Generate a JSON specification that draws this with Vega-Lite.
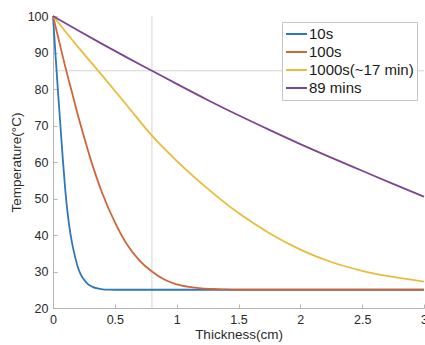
{
  "$schema": "https://vega.github.io/schema/vega-lite/v6.json",
  "width": 371,
  "height": 292,
  "autosize": {"type": "none"},
  "padding": {"left": 53, "top": 16, "right": 1, "bottom": 37},
  "background": "white",
  "config": {
    "view": {"stroke": null},
    "font": "Liberation Sans",
    "axis": {
      "grid": false,
      "domainColor": "#b5b5b5",
      "tickColor": "#b5b5b5",
      "labelColor": "#2a2a2a",
      "titleColor": "#2a2a2a",
      "labelFontSize": 12.5,
      "titleFontSize": 13.5,
      "titleFontWeight": "normal",
      "tickSize": -4,
      "labelPadding": 9,
      "labelOverlap": false,
      "labelFlush": false
    }
  },
  "datasets": {
    "curves": [
      {"series": "10s", "x": 0, "T": 100},
      {"series": "10s", "x": 0.02, "T": 89.5},
      {"series": "10s", "x": 0.04, "T": 79.5},
      {"series": "10s", "x": 0.06, "T": 70},
      {"series": "10s", "x": 0.08, "T": 60.5},
      {"series": "10s", "x": 0.1, "T": 52},
      {"series": "10s", "x": 0.12, "T": 45.5},
      {"series": "10s", "x": 0.14, "T": 40.5},
      {"series": "10s", "x": 0.16, "T": 36.8},
      {"series": "10s", "x": 0.18, "T": 33.8},
      {"series": "10s", "x": 0.2, "T": 31.3},
      {"series": "10s", "x": 0.22, "T": 29.5},
      {"series": "10s", "x": 0.25, "T": 27.8},
      {"series": "10s", "x": 0.28, "T": 26.6},
      {"series": "10s", "x": 0.32, "T": 25.8},
      {"series": "10s", "x": 0.36, "T": 25.35},
      {"series": "10s", "x": 0.4, "T": 25.12},
      {"series": "10s", "x": 0.45, "T": 25.03},
      {"series": "10s", "x": 0.5, "T": 25},
      {"series": "10s", "x": 1, "T": 25},
      {"series": "10s", "x": 1.5, "T": 25},
      {"series": "10s", "x": 2, "T": 25},
      {"series": "10s", "x": 2.5, "T": 25},
      {"series": "10s", "x": 3, "T": 25},
      {"series": "100s", "x": 0, "T": 100},
      {"series": "100s", "x": 0.05, "T": 93},
      {"series": "100s", "x": 0.1, "T": 86},
      {"series": "100s", "x": 0.15, "T": 79.5},
      {"series": "100s", "x": 0.2, "T": 73},
      {"series": "100s", "x": 0.25, "T": 67},
      {"series": "100s", "x": 0.3, "T": 61.2},
      {"series": "100s", "x": 0.35, "T": 56},
      {"series": "100s", "x": 0.4, "T": 51.3},
      {"series": "100s", "x": 0.5, "T": 43.5},
      {"series": "100s", "x": 0.6, "T": 37.3},
      {"series": "100s", "x": 0.7, "T": 33},
      {"series": "100s", "x": 0.8, "T": 30},
      {"series": "100s", "x": 0.9, "T": 27.8},
      {"series": "100s", "x": 1.0, "T": 26.5},
      {"series": "100s", "x": 1.1, "T": 25.8},
      {"series": "100s", "x": 1.2, "T": 25.4},
      {"series": "100s", "x": 1.3, "T": 25.2},
      {"series": "100s", "x": 1.4, "T": 25.1},
      {"series": "100s", "x": 1.5, "T": 25},
      {"series": "100s", "x": 2, "T": 25},
      {"series": "100s", "x": 2.5, "T": 25},
      {"series": "100s", "x": 3, "T": 25},
      {"series": "1000s(~17 min)", "x": 0, "T": 100},
      {"series": "1000s(~17 min)", "x": 0.2, "T": 91.6},
      {"series": "1000s(~17 min)", "x": 0.4, "T": 83.6},
      {"series": "1000s(~17 min)", "x": 0.6, "T": 75.4},
      {"series": "1000s(~17 min)", "x": 0.8, "T": 67.2},
      {"series": "1000s(~17 min)", "x": 1.0, "T": 60.3},
      {"series": "1000s(~17 min)", "x": 1.25, "T": 52.7},
      {"series": "1000s(~17 min)", "x": 1.5, "T": 46},
      {"series": "1000s(~17 min)", "x": 1.75, "T": 40.5},
      {"series": "1000s(~17 min)", "x": 2.0, "T": 36},
      {"series": "1000s(~17 min)", "x": 2.25, "T": 32.6},
      {"series": "1000s(~17 min)", "x": 2.5, "T": 30.2},
      {"series": "1000s(~17 min)", "x": 2.75, "T": 28.5},
      {"series": "1000s(~17 min)", "x": 3.0, "T": 27.2},
      {"series": "89 mins", "x": 0, "T": 100},
      {"series": "89 mins", "x": 0.2, "T": 96.1},
      {"series": "89 mins", "x": 0.4, "T": 92.3},
      {"series": "89 mins", "x": 0.6, "T": 88.6},
      {"series": "89 mins", "x": 0.8, "T": 85},
      {"series": "89 mins", "x": 1.0, "T": 81.4},
      {"series": "89 mins", "x": 1.25, "T": 77},
      {"series": "89 mins", "x": 1.5, "T": 72.8},
      {"series": "89 mins", "x": 1.75, "T": 68.8},
      {"series": "89 mins", "x": 2.0, "T": 64.9},
      {"series": "89 mins", "x": 2.25, "T": 61.2},
      {"series": "89 mins", "x": 2.5, "T": 57.6},
      {"series": "89 mins", "x": 2.75, "T": 54},
      {"series": "89 mins", "x": 3.0, "T": 50.5}
    ],
    "vline": [{"x": 0.8}],
    "hline": [{"T": 85}]
  },
  "layer": [
    {
      "data": {"name": "vline"},
      "mark": {"type": "rule", "color": "#d4d4d4", "strokeWidth": 1},
      "encoding": {
        "x": {
          "field": "x", "type": "quantitative",
          "scale": {"domain": [0, 3], "nice": false},
          "axis": {"title": "Thickness(cm)", "values": [0, 0.5, 1, 1.5, 2, 2.5, 3], "tickCount": 7, "format": "~g", "titlePadding": 2}
        }
      }
    },
    {
      "data": {"name": "hline"},
      "mark": {"type": "rule", "color": "#d4d4d4", "strokeWidth": 1},
      "encoding": {
        "y": {
          "field": "T", "type": "quantitative",
          "scale": {"domain": [20, 100], "nice": false, "zero": false},
          "axis": {"title": "Temperature(°C)", "values": [20, 30, 40, 50, 60, 70, 80, 90, 100], "tickCount": 9, "format": "d", "titlePadding": 4}
        }
      }
    },
    {
      "data": {"name": "curves"},
      "mark": {"type": "line", "strokeWidth": 1.8, "interpolate": "monotone"},
      "encoding": {
        "x": {
          "field": "x", "type": "quantitative",
          "scale": {"domain": [0, 3], "nice": false},
          "axis": {"title": "Thickness(cm)", "values": [0, 0.5, 1, 1.5, 2, 2.5, 3], "tickCount": 7, "format": "~g", "titlePadding": 2}
        },
        "y": {
          "field": "T", "type": "quantitative",
          "scale": {"domain": [20, 100], "nice": false, "zero": false},
          "axis": {"title": "Temperature(°C)", "values": [20, 30, 40, 50, 60, 70, 80, 90, 100], "tickCount": 9, "format": "d", "titlePadding": 4}
        },
        "color": {
          "field": "series", "type": "nominal",
          "scale": {
            "domain": ["10s", "100s", "1000s(~17 min)", "89 mins"],
            "range": ["#2f78b8", "#d0653a", "#e8bd3a", "#7b4592"]
          },
          "legend": {
            "title": null,
            "orient": "none",
            "legendX": 229,
            "legendY": 6,
            "symbolType": "stroke",
            "symbolSize": 441,
            "symbolStrokeWidth": 1.8,
            "labelFontSize": 15,
            "labelColor": "#1a1a1a",
            "labelOffset": 1,
            "clipHeight": 18,
            "rowPadding": 0,
            "padding": 3,
            "strokeColor": "#c4c4c4",
            "fillColor": "white"
          }
        },
        "order": {"field": "series"}
      }
    }
  ]
}
